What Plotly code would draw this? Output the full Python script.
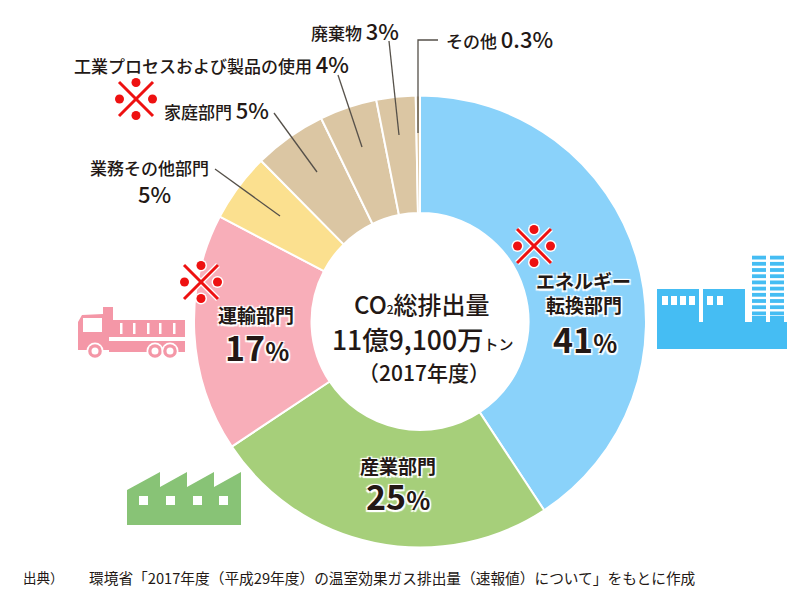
import plotly.graph_objects as go

sectors = ['エネルギー転換部門', '産業部門', '運輸部門', '業務その他部門', '家庭部門',
           '工業プロセスおよび製品の使用', '廃棄物', 'その他']
shares = [40.7, 24.9, 17.0, 4.9, 5.2, 4.1, 2.8, 0.3]
colors = ['#8AD2FA', '#A6CF7A', '#F8AEB9', '#FBE08F', '#DBC6A3', '#DBC6A3', '#DBC6A3', '#DBC6A3']

FONT = 'Noto Sans CJK JP'
INK = '#231815'
W, H = 800, 600

def px(x):
    return x / W

def py(y):
    return 1 - y / H

shapes = []
annotations = []

def text(x, y, s, size, anchor='center', halo=False, weight=500):
    font = dict(family=FONT, size=size, color=INK, weight=weight)
    if halo:
        font['shadow'] = '1.5px 1.5px 1px #fff, -1.5px -1.5px 1px #fff, 1.5px -1.5px 1px #fff, -1.5px 1.5px 1px #fff'
    annotations.append(dict(x=px(x), y=py(y), xref='paper', yref='paper', text=s, showarrow=False,
                            xanchor=anchor, yanchor='middle', font=font, borderpad=0))

def small(s, size):
    return '<span style="font-size:%dpx">%s</span>' % (size, s)

def rect(x0, y0, x1, y1, color):
    shapes.append(dict(type='rect', xref='paper', yref='paper', x0=px(x0), y0=py(y0), x1=px(x1), y1=py(y1),
                       fillcolor=color, line_width=0))

def circle(cx, cy, r, color):
    shapes.append(dict(type='circle', xref='paper', yref='paper', x0=px(cx - r), y0=py(cy - r),
                       x1=px(cx + r), y1=py(cy + r), fillcolor=color, line_width=0))

def line(pts, color='#555049', width=1.3):
    d = 'M' + ' L'.join('%.5f,%.5f' % (px(x), py(y)) for x, y in pts)
    shapes.append(dict(type='path', xref='paper', yref='paper', path=d, line=dict(color=color, width=width)))

def poly(pts, color):
    d = 'M' + ' L'.join('%.5f,%.5f' % (px(x), py(y)) for x, y in pts) + ' Z'
    shapes.append(dict(type='path', xref='paper', yref='paper', path=d, fillcolor=color, line_width=0))

def kome(cx, cy):
    # red reference mark with a white outline
    red = '#EE1111'
    for c, w, extra in (('#fff', 5.5, 1.5), (red, 3, 0)):
        line([(cx - 17, cy - 17), (cx + 17, cy + 17)], c, w)
        line([(cx - 17, cy + 17), (cx + 17, cy - 17)], c, w)
        for dx, dy in ((0, -16.5), (0, 16.5), (-16.5, 0), (16.5, 0)):
            circle(cx + dx, cy + dy, 4.5 + extra, c)

# leader lines
line([(438, 40), (418, 40), (418, 133)])
line([(389, 41), (399, 135)])
line([(338, 75), (362, 147)])
line([(274, 113), (317, 172)])
line([(215, 169), (280, 216)])

# truck
pink = '#F497A7'
poly([(78, 350), (78, 322), (82, 315), (103, 314), (103, 307), (113, 307), (113, 320), (185, 320), (185, 337),
      (109, 337), (109, 350)], pink)
rect(83, 318, 102, 332, '#fff')
for x in (120, 133, 147, 159, 173):
    rect(x, 323, x + 2.5, 334, '#fff')
rect(109, 341, 185, 352, pink)
for cx in (95, 155, 170):
    circle(cx, 351, 8.5, '#fff')
    circle(cx, 351, 6.8, pink)
    circle(cx, 351, 3.5, '#fff')

# factory
green = '#88C376'
poly([(127, 525), (127, 490), (160, 472), (160, 487), (187, 472), (187, 487), (214, 472), (214, 487),
      (241, 472), (241, 525)], green)
for x in (139, 166, 193, 219):
    rect(x, 496, x + 9, 505, '#fff')

# power plant
blue = '#45BDF3'
rect(657, 322, 787, 349, blue)
rect(657, 289, 699, 322, blue)
rect(703, 289, 745, 322, blue)
for x in (662, 671, 680, 689, 707, 717):
    rect(x, 296, x + 6, 305, '#fff')
for i in range(11):
    y = 255.7 + i * 6.2
    rect(752, y, 766, y + 3.8, blue)
    rect(770, y, 784, y + 3.8, blue)
rect(752, 316, 766, 322, blue)
rect(770, 316, 784, 322, blue)

kome(136, 99)
kome(201, 282)
kome(534, 246)

# outside labels
text(445, 38, 'その他 ' + small('0.3%', 22), 17, 'left')
text(310, 30, '廃棄物 ' + small('3%', 22), 17, 'left')
text(73, 63, '工業プロセスおよび製品の使用 ' + small('4%', 22), 17, 'left')
text(163, 109, '家庭部門 ' + small('5%', 22), 17, 'left')
text(149, 167, '業務その他部門', 17)
text(154, 193, '5%', 22)

# labels on the ring
text(256, 314, '運輸部門', 19, halo=True, weight=700)
text(257, 346, '17' + small('%', 25), 34, halo=True, weight=700)
text(583, 281, 'エネルギー', 19, halo=True, weight=700)
text(584, 304, '転換部門', 19, halo=True, weight=700)
text(585, 338, '41' + small('%', 25), 34, halo=True, weight=700)
text(398, 465, '産業部門', 19, halo=True, weight=700)
text(398, 495, '25' + small('%', 25), 34, halo=True, weight=700)

# centre
text(422, 303, 'CO' + small('2', 12) + '総排出量', 24)
text(423, 338, '11億9,100万' + small('トン', 15), 26.5)
text(424, 372, '（2017年度）', 21)

# source
text(22, 577, '出典）', 13.5, 'left', weight=400)
text(88, 577, '環境省「2017年度（平成29年度）の温室効果ガス排出量（速報値）について」をもとに作成', 14.7, 'left', weight=400)

fig = go.Figure(go.Pie(labels=sectors, values=shares, hole=0.48, sort=False, direction='clockwise', rotation=0,
                       marker=dict(colors=colors, line=dict(color='white', width=2)),
                       textinfo='none', hoverinfo='label+percent',
                       domain=dict(x=[194 / W, 646 / W], y=[1 - 547.5 / H, 1 - 95.5 / H])))
fig.update_layout(width=W, height=H, margin=dict(l=0, r=0, t=0, b=0), showlegend=False,
                  paper_bgcolor='white', plot_bgcolor='white', font=dict(family=FONT, color=INK),
                  shapes=shapes, annotations=annotations)
fig.write_html("out.html", config={'displayModeBar': False}, post_script="document.body.style.margin='0'")
